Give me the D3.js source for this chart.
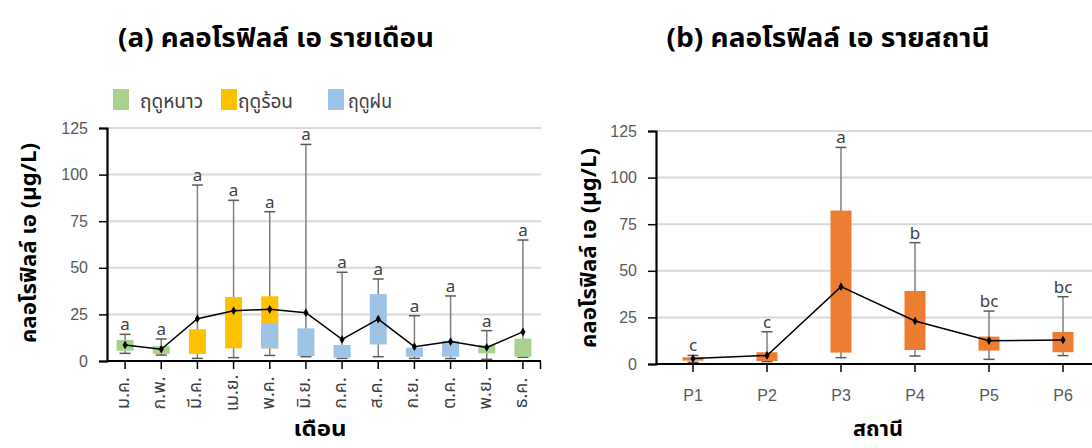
<!DOCTYPE html>
<html>
<head>
<meta charset="utf-8">
<script src="https://cdn.jsdelivr.net/npm/d3@7"></script>
<style>
  html, body { margin: 0; padding: 0; background: #fff; }
  svg text { font-family: Tahoma, "Noto Sans Thai", "Noto Sans", "Liberation Sans", sans-serif; }
</style>
</head>
<body>
<svg id="chart" width="1092" height="448"></svg>
<script>
// ---- Monthly chlorophyll-a ----
const months = ["ม.ค.", "ก.พ.", "มี.ค.", "เม.ย.", "พ.ค.", "มิ.ย.", "ก.ค.", "ส.ค.", "ก.ย.", "ต.ค.", "พ.ย.", "ธ.ค."];
const monthMin  = [4.1, 3.2, 1.4, 1.8, 3.0, 2.3, 1.4, 2.3, 1.4, 1.3, 0.9, 2.0];
const monthQ1   = [5.5, 3.8, 3.8, 6.8, 6.8, 2.7, 1.8, 8.9, 2.3, 2.3, 4.1, 2.3];
const monthQ3   = [11.3, 8.0, 17.0, 34.3, 34.7, 17.5, 8.6, 35.9, 7.1, 10.9, 8.6, 12.0];
const monthMax  = [14.3, 11.8, 94.4, 86.2, 80.1, 116.2, 47.6, 44.0, 24.3, 34.9, 16.3, 64.9];
const monthMean = [8.6, 6.3, 22.7, 27.0, 27.7, 25.9, 11.6, 22.5, 7.7, 10.4, 7.3, 15.6];
// season of the upper part of each box, and of the part below the median where it changes
const monthSeason      = ["winter", "winter", "summer", "summer", "summer", "rain", "rain", "rain", "rain", "rain", "winter", "winter"];
const monthMedian      = [null, null, null, null, 20.2, null, null, null, null, null, null, null];
const monthLowerSeason = ["winter", "winter", "summer", "summer", "rain", "rain", "rain", "rain", "rain", "rain", "winter", "winter"];
const monthLetters = ["a", "a", "a", "a", "a", "a", "a", "a", "a", "a", "a", "a"];

const seasonKeys   = ["winter", "summer", "rain"];
const seasonLabels = ["ฤดูหนาว", "ฤดูร้อน", "ฤดูฝน"];
const seasonColors = ["#A9D18E", "#FFC000", "#9DC3E6"];

// ---- Station chlorophyll-a ----
const stations = ["P1", "P2", "P3", "P4", "P5", "P6"];
const stationMin  = [0.9, 1.3, 3.4, 4.3, 2.5, 4.5];
const stationQ1   = [1.8, 1.6, 6.1, 7.5, 7.2, 6.3];
const stationQ3   = [3.6, 6.3, 82.3, 39.2, 14.7, 17.2];
const stationMax  = [4.6, 17.3, 116.2, 65.1, 28.4, 36.1];
const stationMean = [2.9, 4.6, 41.5, 23.1, 12.5, 12.9];
const stationLetters = ["c", "c", "a", "b", "bc", "bc"];

const yTicks = [0, 25, 50, 75, 100, 125];

const svg = d3.select("#chart");
const seasonColor = d3.scaleOrdinal().domain(seasonKeys).range(seasonColors);

function drawPanel(cfg) {
  const g = svg.append("g");
  const x = d3.scaleBand().domain(cfg.cats).range([cfg.x0, cfg.x1]).padding(0);
  const y = d3.scaleLinear().domain([0, 125]).range([cfg.yB, cfg.yT]);
  const cx = d => x(d) + x.bandwidth() / 2;

  // gridlines
  g.append("g").selectAll("line").data(yTicks.filter(t => t > 0)).join("line")
    .attr("x1", cfg.x0).attr("x2", cfg.x1)
    .attr("y1", d => y(d)).attr("y2", d => y(d))
    .attr("stroke", "#D9D9D9").attr("stroke-width", 2);

  // y axis
  const yAxis = g.append("g").attr("transform", `translate(${cfg.x0},0)`)
    .call(d3.axisLeft(y).tickValues(yTicks).tickSize(8).tickPadding(11));
  yAxis.select(".domain").attr("stroke", "#000").attr("stroke-width", 2.2);
  yAxis.selectAll(".tick line").attr("stroke", "#000").attr("stroke-width", 1.5);
  yAxis.selectAll(".tick text").attr("fill", "#595959").attr("font-size", 16)
    .style("font-family", "'Liberation Sans', Arial, sans-serif");

  // x axis
  const xAxisG = g.append("g").attr("transform", `translate(0,${cfg.yB})`);
  xAxisG.append("line").attr("x1", cfg.x0).attr("x2", cfg.x1).attr("y1", 0).attr("y2", 0)
    .attr("stroke", "#000").attr("stroke-width", 2.2);
  xAxisG.selectAll("line.tk").data(cfg.cats).join("line").attr("class", "tk")
    .attr("x1", d => cx(d)).attr("x2", d => cx(d)).attr("y1", 0).attr("y2", 8)
    .attr("stroke", "#000").attr("stroke-width", 1.5);
  xAxisG.append("line").attr("x1", cfg.x1 - 0.5).attr("x2", cfg.x1 - 0.5).attr("y1", 0).attr("y2", 8)
    .attr("stroke", "#000").attr("stroke-width", 1.5);

  // whiskers
  const wh = g.append("g");
  cfg.cats.forEach((c, i) => {
    const xc = cx(c);
    wh.append("line").attr("x1", xc).attr("x2", xc)
      .attr("y1", y(cfg.min[i])).attr("y2", y(cfg.max[i]))
      .attr("stroke", "#7F7F7F").attr("stroke-width", 1.5);
    [cfg.min[i], cfg.max[i]].forEach(v => {
      wh.append("line").attr("x1", xc - 5.5).attr("x2", xc + 5.5)
        .attr("y1", y(v)).attr("y2", y(v))
        .attr("stroke", "#595959").attr("stroke-width", 1.5);
    });
  });

  // boxes
  const bx = g.append("g");
  cfg.cats.forEach((c, i) => {
    const xc = cx(c);
    bx.append("rect").attr("x", xc - cfg.boxW / 2).attr("width", cfg.boxW)
      .attr("y", y(cfg.q3[i])).attr("height", y(cfg.q1[i]) - y(cfg.q3[i]))
      .attr("fill", cfg.color(i));
    if (cfg.median && cfg.median[i] != null) {
      bx.append("rect").attr("x", xc - cfg.boxW / 2).attr("width", cfg.boxW)
        .attr("y", y(cfg.median[i])).attr("height", y(cfg.q1[i]) - y(cfg.median[i]))
        .attr("fill", cfg.lowerColor(i));
    }
  });

  // mean line and points
  const line = d3.line().x((d, i) => cx(cfg.cats[i])).y(d => y(d));
  g.append("path").datum(cfg.mean).attr("d", line)
    .attr("fill", "none").attr("stroke", "#000").attr("stroke-width", 1.5);
  g.append("g").selectAll("path").data(cfg.mean).join("path")
    .attr("transform", (d, i) => `translate(${cx(cfg.cats[i])},${y(d)})`)
    .attr("d", d3.symbol().type(d3.symbolDiamond).size(22))
    .attr("fill", "#000");

  // significance letters
  g.append("g").selectAll("text").data(cfg.letters).join("text")
    .attr("x", (d, i) => cx(cfg.cats[i]))
    .attr("y", (d, i) => y(cfg.max[i]) - 4)
    .attr("text-anchor", "middle").attr("font-size", 17).attr("fill", "#404040")
    .text(d => d);

  // x category labels
  if (cfg.rotateLabels) {
    g.append("g").selectAll("text").data(cfg.cats).join("text")
      .attr("transform", d => `translate(${cx(d) + 4},${cfg.yB + 32}) rotate(-90)`)
      .attr("text-anchor", "middle").attr("font-size", 18).attr("fill", "#404040")
      .text(d => d);
  } else {
    g.append("g").selectAll("text").data(cfg.cats).join("text")
      .attr("x", d => cx(d)).attr("y", cfg.yB + 37)
      .attr("text-anchor", "middle").attr("font-size", 16).attr("fill", "#595959")
      .style("font-family", "'Liberation Sans', Arial, sans-serif")
      .text(d => d);
  }

  // axis titles
  g.append("text")
    .attr("transform", `translate(${cfg.yTitleX},${cfg.yTitleY}) rotate(-90)`)
    .attr("text-anchor", "middle").attr("font-size", 22).attr("font-weight", "bold").attr("fill", "#000")
    .attr("textLength", cfg.yTitleLen).attr("lengthAdjust", "spacingAndGlyphs")
    .text("คลอโรฟิลล์ เอ (µg/L)");
  g.append("text")
    .attr("x", cfg.xTitleX).attr("y", 436)
    .attr("text-anchor", "middle").attr("font-size", 21).attr("font-weight", "bold").attr("fill", "#000")
    .attr("textLength", cfg.xTitleLen).attr("lengthAdjust", "spacingAndGlyphs")
    .text(cfg.xTitle);

  // panel title
  svg.append("text").attr("x", cfg.titleX).attr("y", 47)
    .attr("text-anchor", "middle").attr("font-size", 26).attr("font-weight", "bold").attr("fill", "#000")
    .attr("textLength", cfg.titleLen).attr("lengthAdjust", "spacingAndGlyphs")
    .text(cfg.title);
}

drawPanel({
  cats: months, x0: 107, x1: 541, yT: 128, yB: 361, boxW: 17,
  min: monthMin, q1: monthQ1, q3: monthQ3, max: monthMax, mean: monthMean,
  median: monthMedian,
  color: i => seasonColor(monthSeason[i]),
  lowerColor: i => seasonColor(monthLowerSeason[i]),
  letters: monthLetters, rotateLabels: true,
  yTitleX: 36, yTitleY: 243, yTitleLen: 200,
  xTitleX: 320, xTitle: "เดือน", xTitleLen: 53,
  titleX: 276, title: "(a) คลอโรฟิลล์ เอ รายเดือน", titleLen: 316
});

drawPanel({
  cats: stations, x0: 656, x1: 1100, yT: 131, yB: 364, boxW: 21,
  min: stationMin, q1: stationQ1, q3: stationQ3, max: stationMax, mean: stationMean,
  median: null,
  color: () => "#ED7D31",
  letters: stationLetters, rotateLabels: false,
  yTitleX: 596, yTitleY: 248, yTitleLen: 200,
  xTitleX: 878, xTitle: "สถานี", xTitleLen: 50,
  titleX: 828, title: "(b) คลอโรฟิลล์ เอ รายสถานี", titleLen: 323
});

// season legend
const legendX = [113, 221, 328];
const legendTextX = [140, 238, 348];
const legendTextLen = [63, 55, 44];
const legend = svg.append("g");
seasonKeys.forEach((k, i) => {
  legend.append("rect").attr("x", legendX[i]).attr("y", 89).attr("width", 16).attr("height", 21)
    .attr("fill", seasonColor(k));
  legend.append("text").attr("x", legendTextX[i]).attr("y", 108)
    .attr("font-size", 19).attr("fill", "#404040")
    .attr("textLength", legendTextLen[i]).attr("lengthAdjust", "spacingAndGlyphs")
    .text(seasonLabels[i]);
});
</script>
</body>
</html>
